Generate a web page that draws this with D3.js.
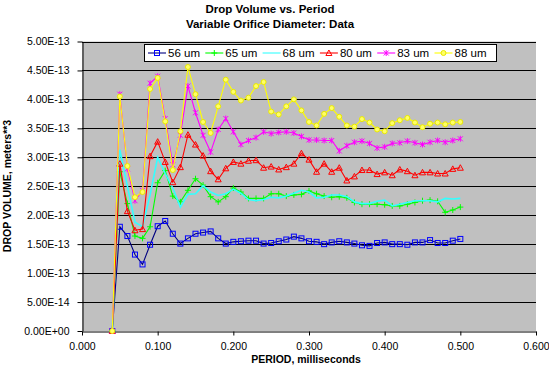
<!DOCTYPE html>
<html>
<head>
<meta charset="utf-8">
<script src="https://cdn.jsdelivr.net/npm/d3@7"></script>
<style>
  body { margin: 0; background: #fff; }
  svg { display: block; font-family: Arial, "Liberation Sans", sans-serif; }
</style>
</head>
<body>
<svg id="chart" width="549" height="369"></svg>
<script>
"use strict";

// period values, milliseconds
const periods = [
  0.04, 0.05, 0.06, 0.07, 0.08, 0.09, 0.10, 0.11, 0.12, 0.13, 0.14, 0.15,
  0.16, 0.17, 0.18, 0.19, 0.20, 0.21, 0.22, 0.23, 0.24, 0.25, 0.26, 0.27,
  0.28, 0.29, 0.30, 0.31, 0.32, 0.33, 0.34, 0.35, 0.36, 0.37, 0.38, 0.39,
  0.40, 0.41, 0.42, 0.43, 0.44, 0.45, 0.46, 0.47, 0.48, 0.49, 0.50
];

// drop volumes, in units of 1e-13 m^3
const vol56 = [
  0, 1.80, 1.64, 1.32, 1.15, 1.49, 1.81, 1.90, 1.68, 1.51, 1.60, 1.68,
  1.70, 1.72, 1.60, 1.51, 1.54, 1.55, 1.56, 1.56, 1.51, 1.52, 1.55, 1.58,
  1.63, 1.60, 1.55, 1.54, 1.50, 1.53, 1.55, 1.53, 1.51, 1.48, 1.47, 1.52,
  1.53, 1.50, 1.50, 1.49, 1.53, 1.53, 1.57, 1.52, 1.52, 1.56, 1.59
];
const vol65 = [
  0, 2.75, 2.20, 1.64, 1.60, 1.80, 2.56, 2.77, 2.33, 2.23, 2.43, 2.63,
  2.52, 2.32, 2.23, 2.32, 2.47, 2.40, 2.29, 2.29, 2.29, 2.37, 2.37, 2.33,
  2.35, 2.36, 2.42, 2.37, 2.33, 2.31, 2.32, 2.30, 2.22, 2.19, 2.19, 2.19,
  2.18, 2.16, 2.16, 2.19, 2.22, 2.25, 2.26, 2.24, 2.05, 2.09, 2.14
];
const vol68 = [
  0, 3.13, 2.50, 1.88, 1.80, 2.35, 3.00, 2.72, 2.47, 2.14, 2.36, 2.37,
  2.51, 2.40, 2.34, 2.37, 2.45, 2.38, 2.27, 2.25, 2.27, 2.31, 2.30, 2.33,
  2.38, 2.43, 2.40, 2.30, 2.31, 2.35, 2.35, 2.32, 2.23, 2.20, 2.20, 2.24,
  2.26, 2.16, 2.19, 2.22, 2.25, 2.25, 2.25, 2.23, 2.29, 2.28, 2.29
];
const vol80 = [
  0, 2.89, 2.07, 1.74, 1.76, 3.02, 3.27, 2.92, 2.57, 2.83, 3.39, 3.22,
  3.03, 2.76, 2.62, 2.81, 2.92, 2.89, 2.94, 2.95, 2.82, 2.84, 2.79, 2.83,
  2.89, 3.07, 2.96, 2.75, 2.89, 2.75, 2.82, 2.60, 2.67, 2.78, 2.78, 2.71,
  2.74, 2.69, 2.79, 2.76, 2.69, 2.74, 2.74, 2.72, 2.72, 2.80, 2.82
];
const vol83 = [
  0, 4.09, 2.80, 2.25, 2.43, 4.28, 4.40, 3.67, 2.87, 3.38, 4.23, 3.77,
  3.38, 3.09, 3.48, 3.67, 3.44, 3.22, 3.29, 3.34, 3.44, 3.41, 3.43, 3.44,
  3.42, 3.36, 3.30, 3.30, 3.29, 3.29, 3.11, 3.20, 3.26, 3.28, 3.24, 3.16,
  3.18, 3.24, 3.25, 3.28, 3.25, 3.22, 3.26, 3.29, 3.26, 3.29, 3.32
];
const vol88 = [
  0, 4.05, 2.85, 2.31, 2.40, 4.18, 4.37, 3.62, 2.78, 3.45, 4.56, 4.09,
  3.61, 3.42, 3.88, 4.34, 4.13, 3.98, 4.03, 4.23, 4.30, 3.79, 3.74, 3.88,
  4.00, 3.81, 3.61, 3.55, 3.75, 3.85, 3.70, 3.55, 3.53, 3.66, 3.60, 3.48,
  3.45, 3.59, 3.64, 3.68, 3.60, 3.52, 3.58, 3.60, 3.57, 3.60, 3.61
];

const seriesNames = ["56 um", "65 um", "68 um", "80 um", "83 um", "88 um"];
const seriesValues = [vol56, vol65, vol68, vol80, vol83, vol88];
const xTicks = [0, 0.1, 0.2, 0.3, 0.4, 0.5, 0.6];
const yTicks = [0, 0.5e-13, 1e-13, 1.5e-13, 2e-13, 2.5e-13, 3e-13, 3.5e-13, 4e-13, 4.5e-13, 5e-13];

// look of each series: line colour, marker colour, marker kind
const styles = [
  { line: "#000080", mark: "#0000ff", shape: "square" },
  { line: "#00ff00", mark: "#00ff00", shape: "plus" },
  { line: "#33ffff", mark: "#33ffff", shape: "none" },
  { line: "#ff0000", mark: "#ff0000", shape: "triangle" },
  { line: "#ff00ff", mark: "#ff00ff", shape: "cross" },
  { line: "#ffff00", mark: "#e8e800", shape: "circle" }
];

const plot = { left: 82, right: 536, top: 41.5, bottom: 331 };

const svg = d3.select("#chart");

const x = d3.scaleLinear().domain([0, 0.6]).range([plot.left, plot.right]);
const y = d3.scaleLinear().domain([0, 5e-13]).range([plot.bottom, plot.top]);

// Excel style scientific labels, e.g. 5.00E-14
const sci = (v) => {
  if (v === 0) return "0.00E+00";
  const [m, e] = d3.format(".2e")(v).split("e");
  const n = +e;
  return m + "E" + (n < 0 ? "-" : "+") + String(Math.abs(n)).padStart(2, "0");
};

// titles
svg.append("text").attr("x", 270).attr("y", 13).attr("text-anchor", "middle")
  .attr("font-size", 11.5).attr("font-weight", "bold").text("Drop Volume vs. Period");
svg.append("text").attr("x", 270).attr("y", 28).attr("text-anchor", "middle")
  .attr("font-size", 11.5).attr("font-weight", "bold").text("Variable Orifice Diameter: Data");

// plot background
svg.append("rect")
  .attr("x", plot.left).attr("y", plot.top)
  .attr("width", plot.right - plot.left).attr("height", plot.bottom - plot.top)
  .attr("fill", "#c0c0c0");

// gridlines
svg.append("g")
  .selectAll("line")
  .data(yTicks.slice(1))
  .join("line")
  .attr("x1", plot.left).attr("x2", plot.right)
  .attr("y1", (d) => Math.round(y(d)) + 0.5).attr("y2", (d) => Math.round(y(d)) + 0.5)
  .attr("stroke", "#000").attr("stroke-width", 1);

const xAxis = d3.axisBottom(x).tickValues(xTicks).tickFormat(d3.format(".3f")).tickSizeInner(4).tickSizeOuter(0);
const yAxis = d3.axisLeft(y).tickValues(yTicks).tickFormat(sci).tickSizeInner(5).tickSizeOuter(0);

const xg = svg.append("g").attr("transform", `translate(0,${Math.round(plot.bottom) + 0.5})`).call(xAxis);
xg.selectAll("text").attr("font-size", 10.5).attr("fill", "#000").attr("font-family", null).attr("dy", "1.05em");
xg.select(".domain").attr("stroke", "#000");

const yg = svg.append("g").attr("transform", `translate(${plot.left + 0.5},0)`).call(yAxis);
yg.selectAll("text").attr("font-size", 10.5).attr("fill", "#000").attr("font-family", null).attr("x", -13);
yg.select(".domain").attr("stroke", "#000");
svg.selectAll(".tick line").attr("stroke", "#000");

// axis titles
svg.append("text").attr("x", 306).attr("y", 363).attr("text-anchor", "middle")
  .attr("font-size", 10.5).attr("font-weight", "bold").text("PERIOD, milliseconds");
svg.append("text").attr("transform", "translate(11,186) rotate(-90)").attr("text-anchor", "middle")
  .attr("font-size", 10.5).attr("font-weight", "bold").text("DROP VOLUME, meters**3");

// marker drawing
const drawMarker = (g, shape, color) => {
  if (shape === "square") {
    g.append("rect").attr("x", -2.5).attr("y", -2.5).attr("width", 5).attr("height", 5)
      .attr("fill", "none").attr("stroke", color).attr("stroke-width", 1);
  } else if (shape === "plus") {
    g.append("path").attr("d", "M-3,0H3M0,-3V3").attr("stroke", color).attr("stroke-width", 1);
  } else if (shape === "triangle") {
    g.append("path").attr("d", "M0,-3L3,2.5H-3Z").attr("fill", "none").attr("stroke", color).attr("stroke-width", 1);
  } else if (shape === "cross") {
    g.append("path").attr("d", "M-2.5,-2.5L2.5,2.5M-2.5,2.5L2.5,-2.5M0,-3V3").attr("stroke", color).attr("stroke-width", 1);
  } else if (shape === "circle") {
    g.append("circle").attr("r", 2.5).attr("fill", "#ffff66").attr("stroke", color).attr("stroke-width", 1);
  }
};

const line = d3.line().x((d) => x(d[0])).y((d) => y(d[1]));

const seriesG = svg.append("g");
seriesValues.forEach((vals, i) => {
  const pts = periods.map((p, k) => [p, vals[k] * 1e-13]);
  const st = styles[i];
  const g = seriesG.append("g");
  g.append("path").datum(pts).attr("d", line)
    .attr("fill", "none").attr("stroke", st.line)
    .attr("stroke-width", i === 2 ? 1.6 : 1.1);
  g.selectAll("g.m").data(pts).join("g").attr("class", "m")
    .attr("transform", (d) => `translate(${x(d[0])},${y(d[1])})`)
    .each(function () { drawMarker(d3.select(this), st.shape, st.mark); });
});

// legend
const legend = svg.append("g");
legend.append("rect").attr("x", 144.5).attr("y", 44.5).attr("width", 352).attr("height", 17)
  .attr("fill", "#fff").attr("stroke", "#000").attr("stroke-width", 1);
seriesNames.forEach((name, i) => {
  const lx = 148 + i * 57.3;
  const st = styles[i];
  const item = legend.append("g").attr("transform", `translate(${lx},53)`);
  item.append("line").attr("x1", 0).attr("x2", 18).attr("stroke", st.line).attr("stroke-width", 1.1);
  drawMarker(item.append("g").attr("transform", "translate(9,0)"), st.shape, st.mark);
  item.append("text").attr("x", 20).attr("y", 4).attr("font-size", 11.5).text(name);
});
</script>
</body>
</html>
